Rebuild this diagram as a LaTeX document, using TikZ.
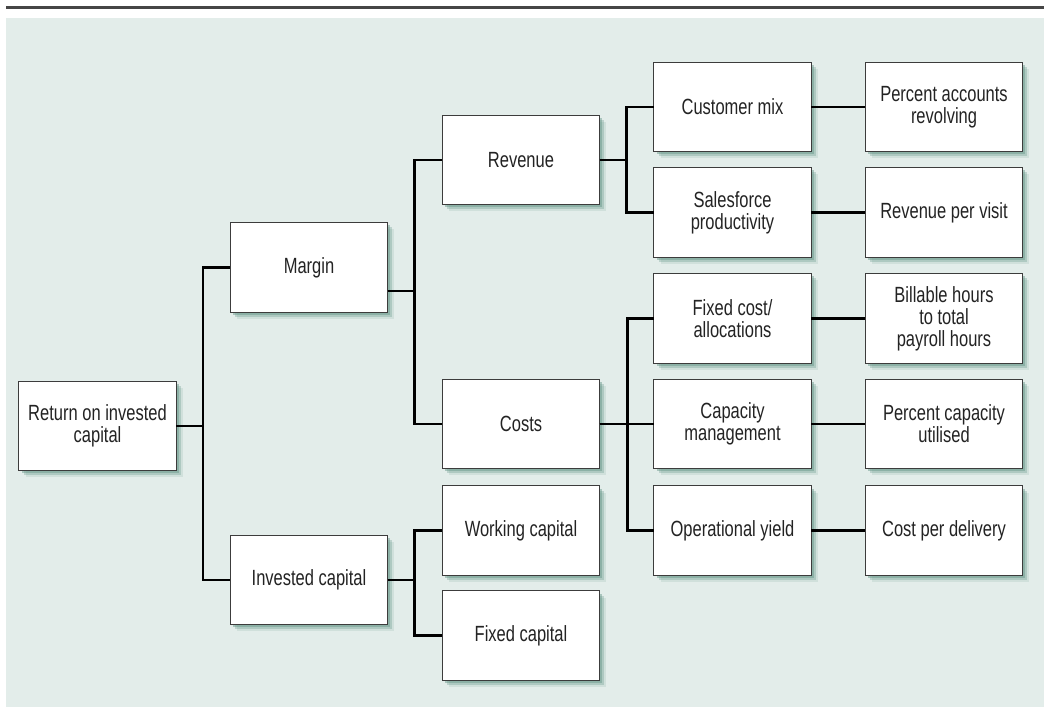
\documentclass[tikz,border=0pt]{standalone}
\usepackage{fontspec}
\setmainfont{Liberation Sans}[FakeStretch=0.75]
\usetikzlibrary{shadows,calc}
\definecolor{panelbg}{RGB}{227,237,234}
\definecolor{shadowgreen}{RGB}{100,150,135}
\definecolor{boxline}{RGB}{60,60,60}
\definecolor{rulegray}{RGB}{70,70,70}
\definecolor{textgray}{RGB}{35,35,35}

\begin{document}
\begin{tikzpicture}[x=0.75pt,y=-0.75pt,
		treebox/.style = {draw=boxline, line width=0.8pt, fill=white,
			minimum width=118pt, minimum height=67pt, inner sep=2pt, outer sep=0pt,
			align=center, text=textgray, font=\fontsize{16.5}{16.5}\selectfont,
			drop shadow={shadow xshift=2pt, shadow yshift=-2pt, fill=shadowgreen, opacity=.45},
			drop shadow={shadow xshift=3.5pt, shadow yshift=-3.5pt, fill=shadowgreen, opacity=.3},
			drop shadow={shadow xshift=5pt, shadow yshift=-5pt, fill=shadowgreen, opacity=.15}},
		link/.style = {line width=1.8pt, black}]
		\useasboundingbox (0,0) rectangle (1044,716);
		\fill[panelbg] (6,18) rectangle (1044,707);
		\draw[rulegray, line width=2pt] (6,7.5) -- (1044,7.5);

		% first and second level
		\node[treebox] (roic) at (97.5,426){Return on invested\\capital};
		\node[treebox] (margin) at (309,267.5){Margin};
		\node[treebox] (invested) at (309,580){Invested capital};

		% third level
		\node[treebox] (revenue) at (521,160){Revenue};
		\node[treebox] (costs) at (521,424){Costs};
		\node[treebox] (working) at (521,530.5){Working capital};
		\node[treebox] (fixedcap) at (521,635.5){Fixed capital};

		% drivers
		\node[treebox] (custmix) at (732.5,107){Customer mix};
		\node[treebox] (salesforce) at (732.5,212.5){Salesforce\\productivity};
		\node[treebox] (fixedcost) at (732.5,318.5){Fixed cost/\\allocations};
		\node[treebox] (capacity) at (732.5,424){Capacity\\management};
		\node[treebox] (opyield) at (732.5,530.5){Operational yield};

		% measures
		\node[treebox] (pctacc) at (944,107){Percent accounts\\revolving};
		\node[treebox] (revvisit) at (944,212.5){Revenue per visit};
		\node[treebox] (billable) at (944,318.5){Billable hours\\to total\\payroll hours};
		\node[treebox] (pctcap) at (944,424){Percent capacity\\utilised};
		\node[treebox] (costdel) at (944,530.5){Cost per delivery};

		% connectors
		\draw[link] (roic.east) -- ++(27,0) |- (margin.west);
		\draw[link] (roic.east) -- ++(27,0) |- (invested.west);
		\draw[link] ($(margin.east)+(0,23.5)$) -- ++(27,0) |- (revenue.west);
		\draw[link] ($(margin.east)+(0,23.5)$) -- ++(27,0) |- (costs.west);
		\draw[link] (invested.east) -- ++(27,0) |- (working.west);
		\draw[link] (invested.east) -- ++(27,0) |- (fixedcap.west);
		\draw[link] (revenue.east) -- ++(27,0) |- (custmix.west);
		\draw[link] (revenue.east) -- ++(27,0) |- (salesforce.west);
		\draw[link] (costs.east) -- ++(28,0) |- (fixedcost.west);
		\draw[link] (costs.east) -- (capacity.west);
		\draw[link] (costs.east) -- ++(28,0) |- (opyield.west);
		\draw[link] (custmix.east) -- (pctacc.west);
		\draw[link] (salesforce.east) -- (revvisit.west);
		\draw[link] (fixedcost.east) -- (billable.west);
		\draw[link] (capacity.east) -- (pctcap.west);
		\draw[link] (opyield.east) -- (costdel.west);
\end{tikzpicture}
\end{document}
